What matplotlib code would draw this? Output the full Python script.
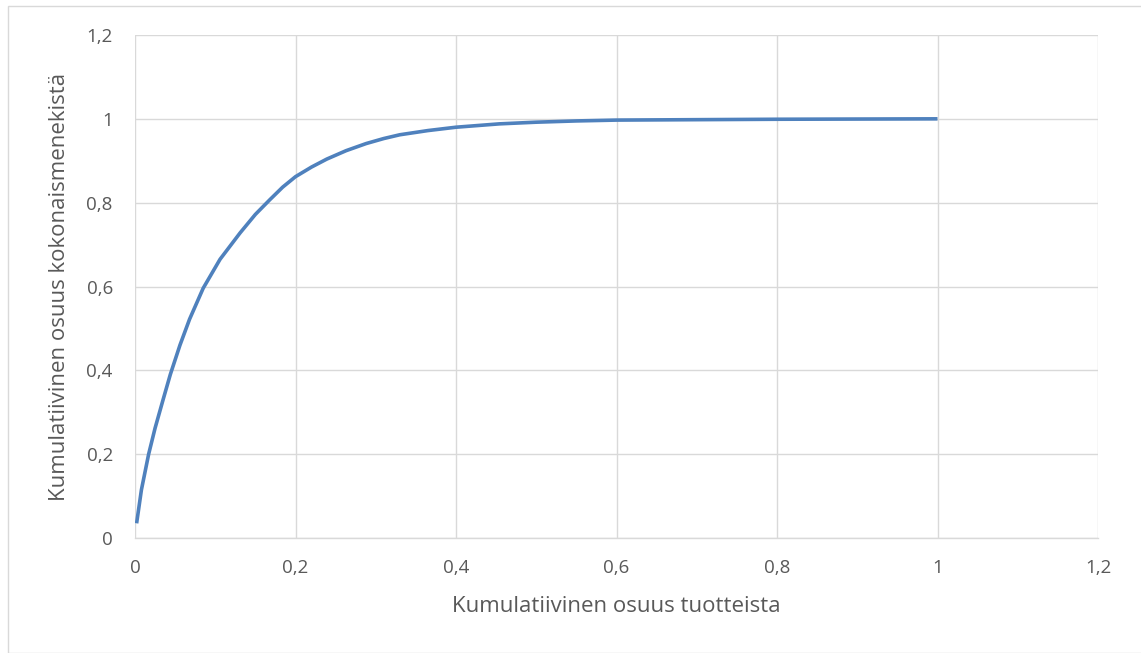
import matplotlib
matplotlib.use("Agg")
import matplotlib.pyplot as plt
from matplotlib.patches import Rectangle

# Data
x_share = [0.002, 0.008, 0.017, 0.025, 0.035, 0.044, 0.056, 0.068, 0.085, 0.106,
           0.131, 0.150, 0.168, 0.184, 0.200, 0.220, 0.239, 0.263, 0.288, 0.310,
           0.330, 0.365, 0.400, 0.454, 0.500, 0.550, 0.600, 0.700, 0.800, 0.900, 1.000]
y_share = [0.035, 0.115, 0.200, 0.262, 0.330, 0.390, 0.460, 0.522, 0.596, 0.665,
           0.728, 0.772, 0.807, 0.837, 0.862, 0.885, 0.904, 0.924, 0.941, 0.953,
           0.962, 0.972, 0.980, 0.988, 0.992, 0.995, 0.997, 0.998, 0.999, 0.9995, 1.000]
x_ticks = [0, 0.2, 0.4, 0.6, 0.8, 1.0, 1.2]
x_tick_labels = ["0", "0,2", "0,4", "0,6", "0,8", "1", "1,2"]
y_ticks = [0, 0.2, 0.4, 0.6, 0.8, 1.0, 1.2]
y_tick_labels = ["0", "0,2", "0,4", "0,6", "0,8", "1", "1,2"]
x_label = "Kumulatiivinen osuus tuotteista"
y_label = "Kumulatiivinen osuus kokonaismenekistä"

plt.rcParams['font.family'] = ['Open Sans', 'DejaVu Sans']
W, H = 1141, 653
fig = plt.figure(figsize=(W / 100, H / 100), dpi=100)
fig.patches.append(Rectangle((8 / W, 0), 1.2, 1 - 6 / H, transform=fig.transFigure,
                             fill=False, edgecolor="#d9d9d9", linewidth=1))

ax = fig.add_axes([135 / W, 1 - 538 / H, (1098 - 135) / W, (538 - 35) / H])
ax.plot(x_share, y_share, color="#4f81bd", linewidth=2.6, solid_capstyle="butt",
        solid_joinstyle="round", zorder=3)

ax.set_xlim(0, 1.2)
ax.set_ylim(0, 1.2)
ax.set_xticks(x_ticks)
ax.set_xticklabels(x_tick_labels)
ax.set_yticks(y_ticks)
ax.set_yticklabels(y_tick_labels)
ax.grid(True, color="#d9d9d9", linewidth=1)
ax.set_axisbelow(True)
for s in ["top", "right", "left"]:
    ax.spines[s].set_visible(False)
ax.spines["bottom"].set_color("#d9d9d9")
ax.spines["bottom"].set_linewidth(1)
ax.tick_params(length=0, labelsize=13.5, labelcolor="#595959")
ax.tick_params(axis="x", pad=15)
ax.tick_params(axis="y", pad=16)
ax.set_xlabel(x_label, fontsize=16, color="#595959", va="center")
ax.set_ylabel(y_label, fontsize=16, color="#595959", va="center")
ax.xaxis.set_label_coords(0.5, (538 - 606) / 503)
ax.yaxis.set_label_coords((60 - 135) / 963, 0.5)

fig.savefig("out.png", dpi=100)
